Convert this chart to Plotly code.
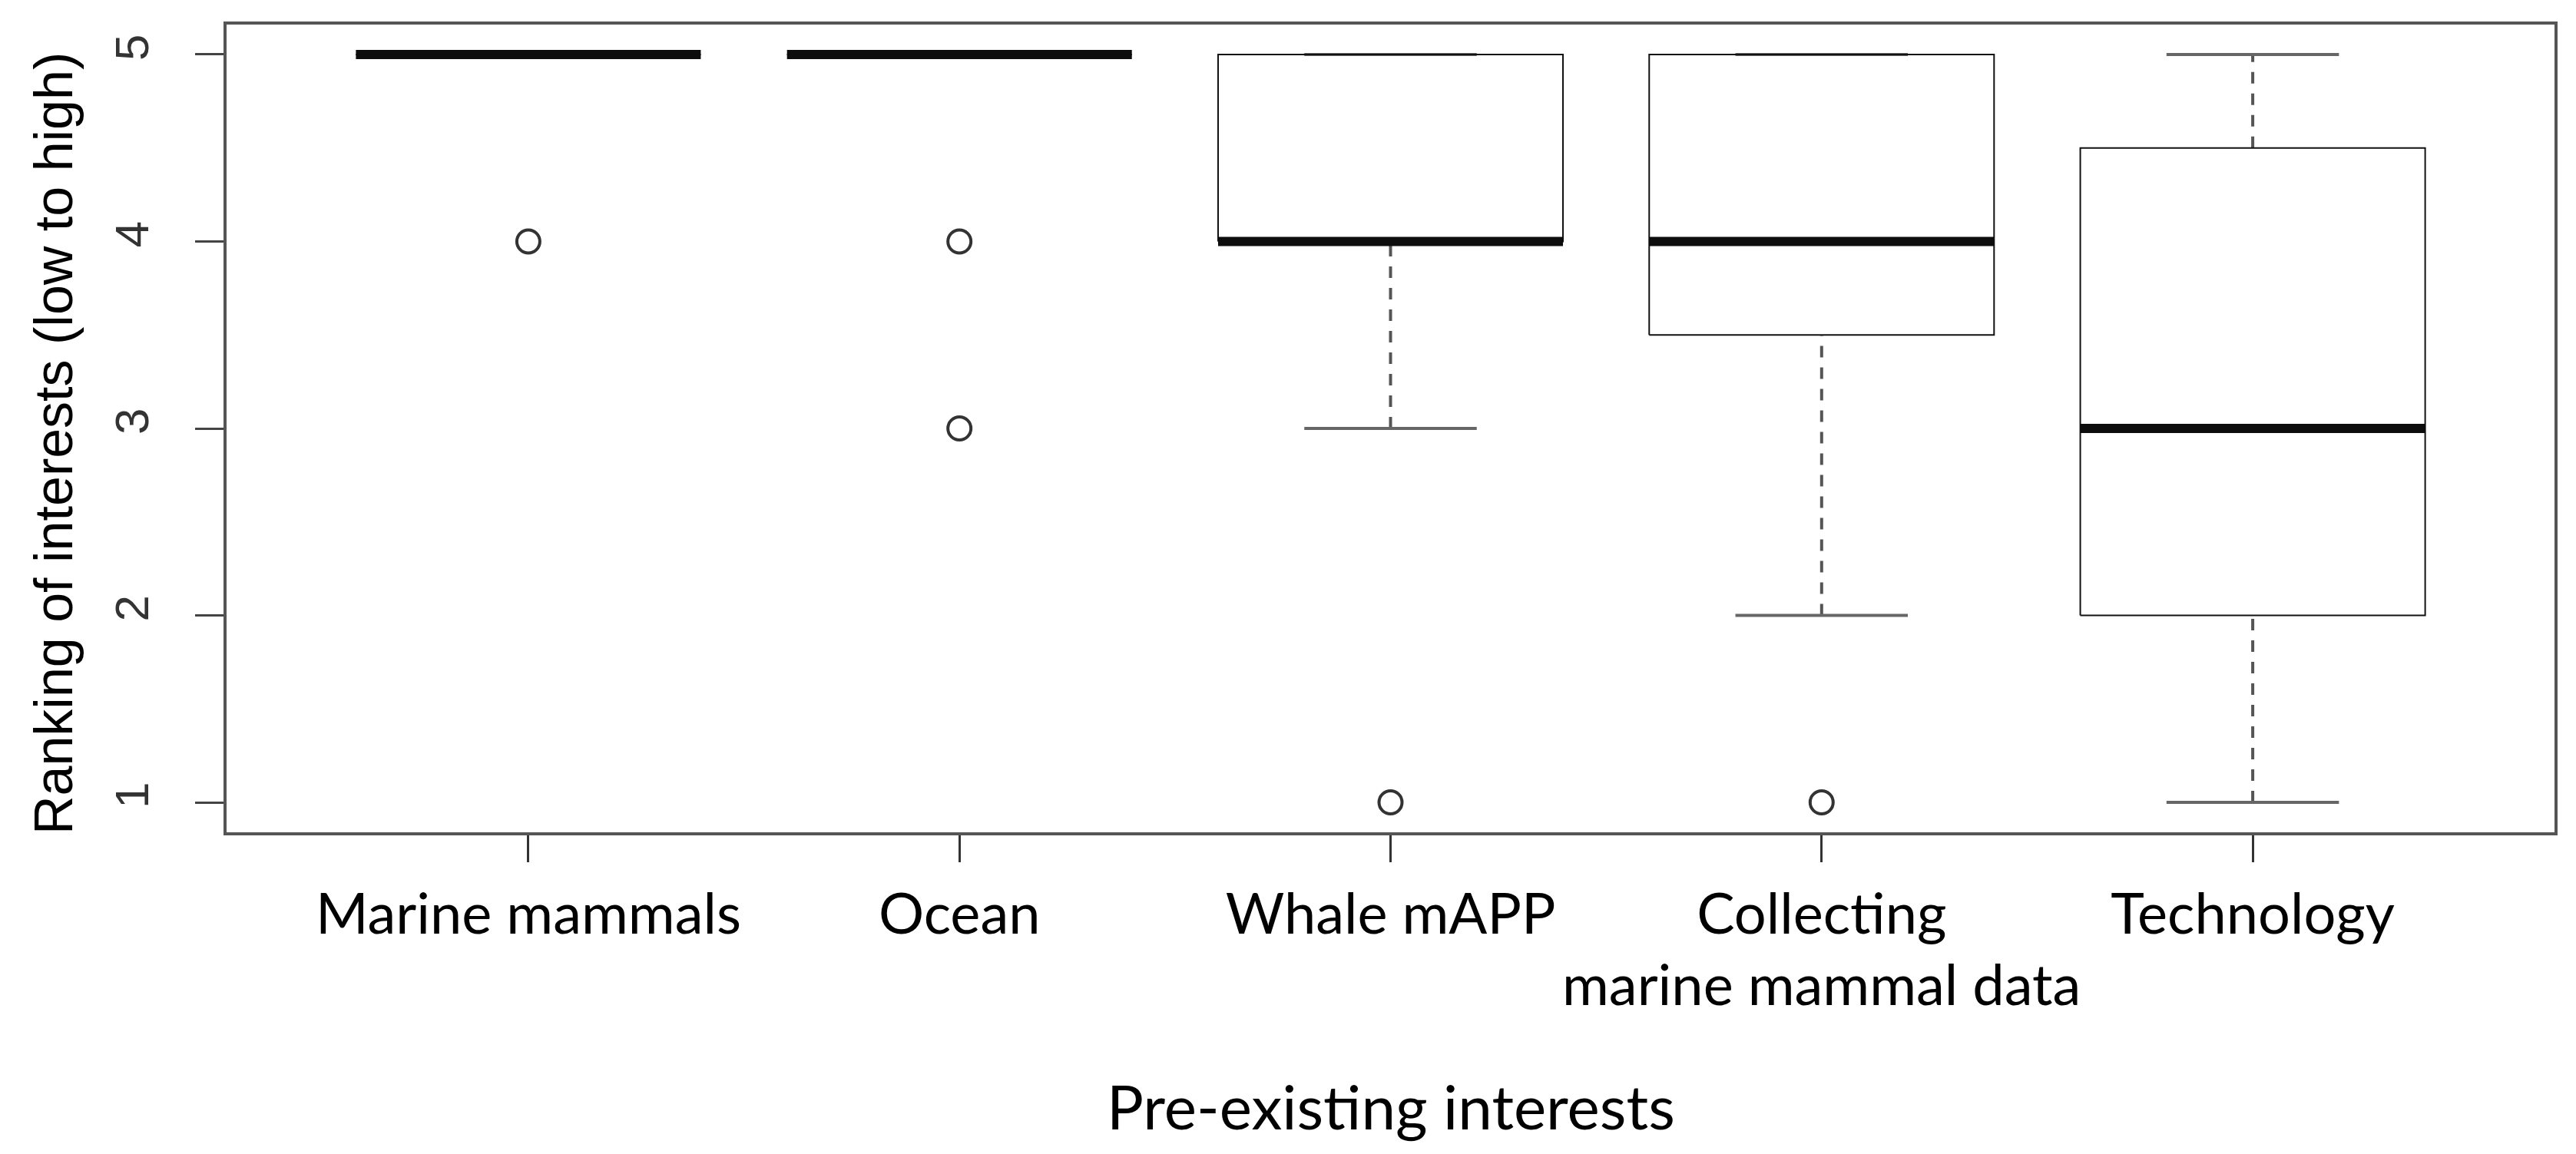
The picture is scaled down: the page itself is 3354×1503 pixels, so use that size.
import plotly.graph_objects as go

# categories (second line of a name goes under the tick label)
categories = ["Marine mammals", "Ocean", "Whale mAPP", "Collecting\nmarine mammal data", "Technology"]

# box stats per category
q1 = [5, 5, 4, 3.5, 2]
median = [5, 5, 4, 4, 3]
q3 = [5, 5, 5, 5, 4.5]
whisker_lo = [5, 5, 3, 2, 1]
whisker_hi = [5, 5, 5, 5, 5]
outliers = [[4], [4, 3], [1], [1], []]

y_ticks = [1, 2, 3, 4, 5]

# page has an 8px body margin, so the figure is a bit smaller than the window
W, H = 3338, 1487
half_box = 0.4   # like R boxwex 0.8
half_cap = 0.2   # staplewex 0.5

pos = list(range(1, len(categories) + 1))

box_x, box_y = [], []
med_x, med_y = [], []
wh_x, wh_y = [], []
cap_x, cap_y = [], []
out_x, out_y = [], []
for p, a, m, b, lo, hi, outs in zip(pos, q1, median, q3, whisker_lo, whisker_hi, outliers):
    box_x += [p - half_box, p + half_box, p + half_box, p - half_box, p - half_box, None]
    box_y += [a, a, b, b, a, None]
    med_x += [p - half_box, p + half_box, None]
    med_y += [m, m, None]
    if lo < a:
        wh_x += [p, p, None]
        wh_y += [lo, a, None]
    if hi > b:
        wh_x += [p, p, None]
        wh_y += [b, hi, None]
    for v in (lo, hi):
        cap_x += [p - half_cap, p + half_cap, None]
        cap_y += [v, v, None]
    out_x += [p] * len(outs)
    out_y += outs

fig = go.Figure()
fig.add_trace(go.Scatter(x=wh_x, y=wh_y, mode="lines",
                         line=dict(color="#555555", width=4, dash="15px,13px")))
fig.add_trace(go.Scatter(x=cap_x, y=cap_y, mode="lines",
                         line=dict(color="#666666", width=4)))
fig.add_trace(go.Scatter(x=box_x, y=box_y, mode="lines",
                         line=dict(color="#111111", width=2)))
fig.add_trace(go.Scatter(x=med_x, y=med_y, mode="lines",
                         line=dict(color="#0d0d0d", width=12)))
fig.add_trace(go.Scatter(x=out_x, y=out_y, mode="markers",
                         marker=dict(symbol="circle-open", size=30, color="#333333",
                                     line=dict(width=4, color="#333333"))))

first_lines = [c.split("\n")[0] for c in categories]

fig.update_layout(
    width=W, height=H,
    margin=dict(l=287, r=20, t=24, b=411),
    plot_bgcolor="white", paper_bgcolor="white",
    showlegend=False,
    xaxis=dict(range=[0.3, len(categories) + 0.7], tickvals=pos, ticktext=first_lines,
               showgrid=False, zeroline=False, showline=True, mirror=True,
               linecolor="#555555", linewidth=4,
               ticks="outside", ticklen=35, tickwidth=3, tickcolor="#333333",
               ticklabelstandoff=4,
               tickfont=dict(family="Lato", size=74, color="black")),
    yaxis=dict(range=[0.84, 5.16], tickvals=y_ticks,
               showgrid=False, zeroline=False, showline=True, mirror=True,
               linecolor="#555555", linewidth=4,
               ticks="outside", ticklen=37, tickwidth=3, tickcolor="#444444",
               tickangle=-90, ticklabelstandoff=36,
               tickfont=dict(family="Liberation Sans", size=62, color="#333333")),
)

# second lines of long category names
for p, c in zip(pos, categories):
    rest = c.split("\n")[1:]
    if rest:
        fig.add_annotation(x=p, xref="x", y=-0.187, yref="paper", text="<br>".join(rest),
                           showarrow=False, xanchor="center", yanchor="middle",
                           font=dict(family="Lato", size=74, color="black"))

fig.add_annotation(x=0.5, xref="paper", y=-0.338, yref="paper", text="Pre-existing interests",
                   showarrow=False, xanchor="center", yanchor="middle",
                   font=dict(family="Lato", size=80, color="black"))
fig.add_annotation(x=-0.0742, xref="paper", y=0.481, yref="paper",
                   text="Ranking of interests (low to high)", textangle=-90,
                   showarrow=False, xanchor="center", yanchor="middle",
                   font=dict(family="Liberation Sans", size=70, color="black"))

fig.write_html("out.html")
